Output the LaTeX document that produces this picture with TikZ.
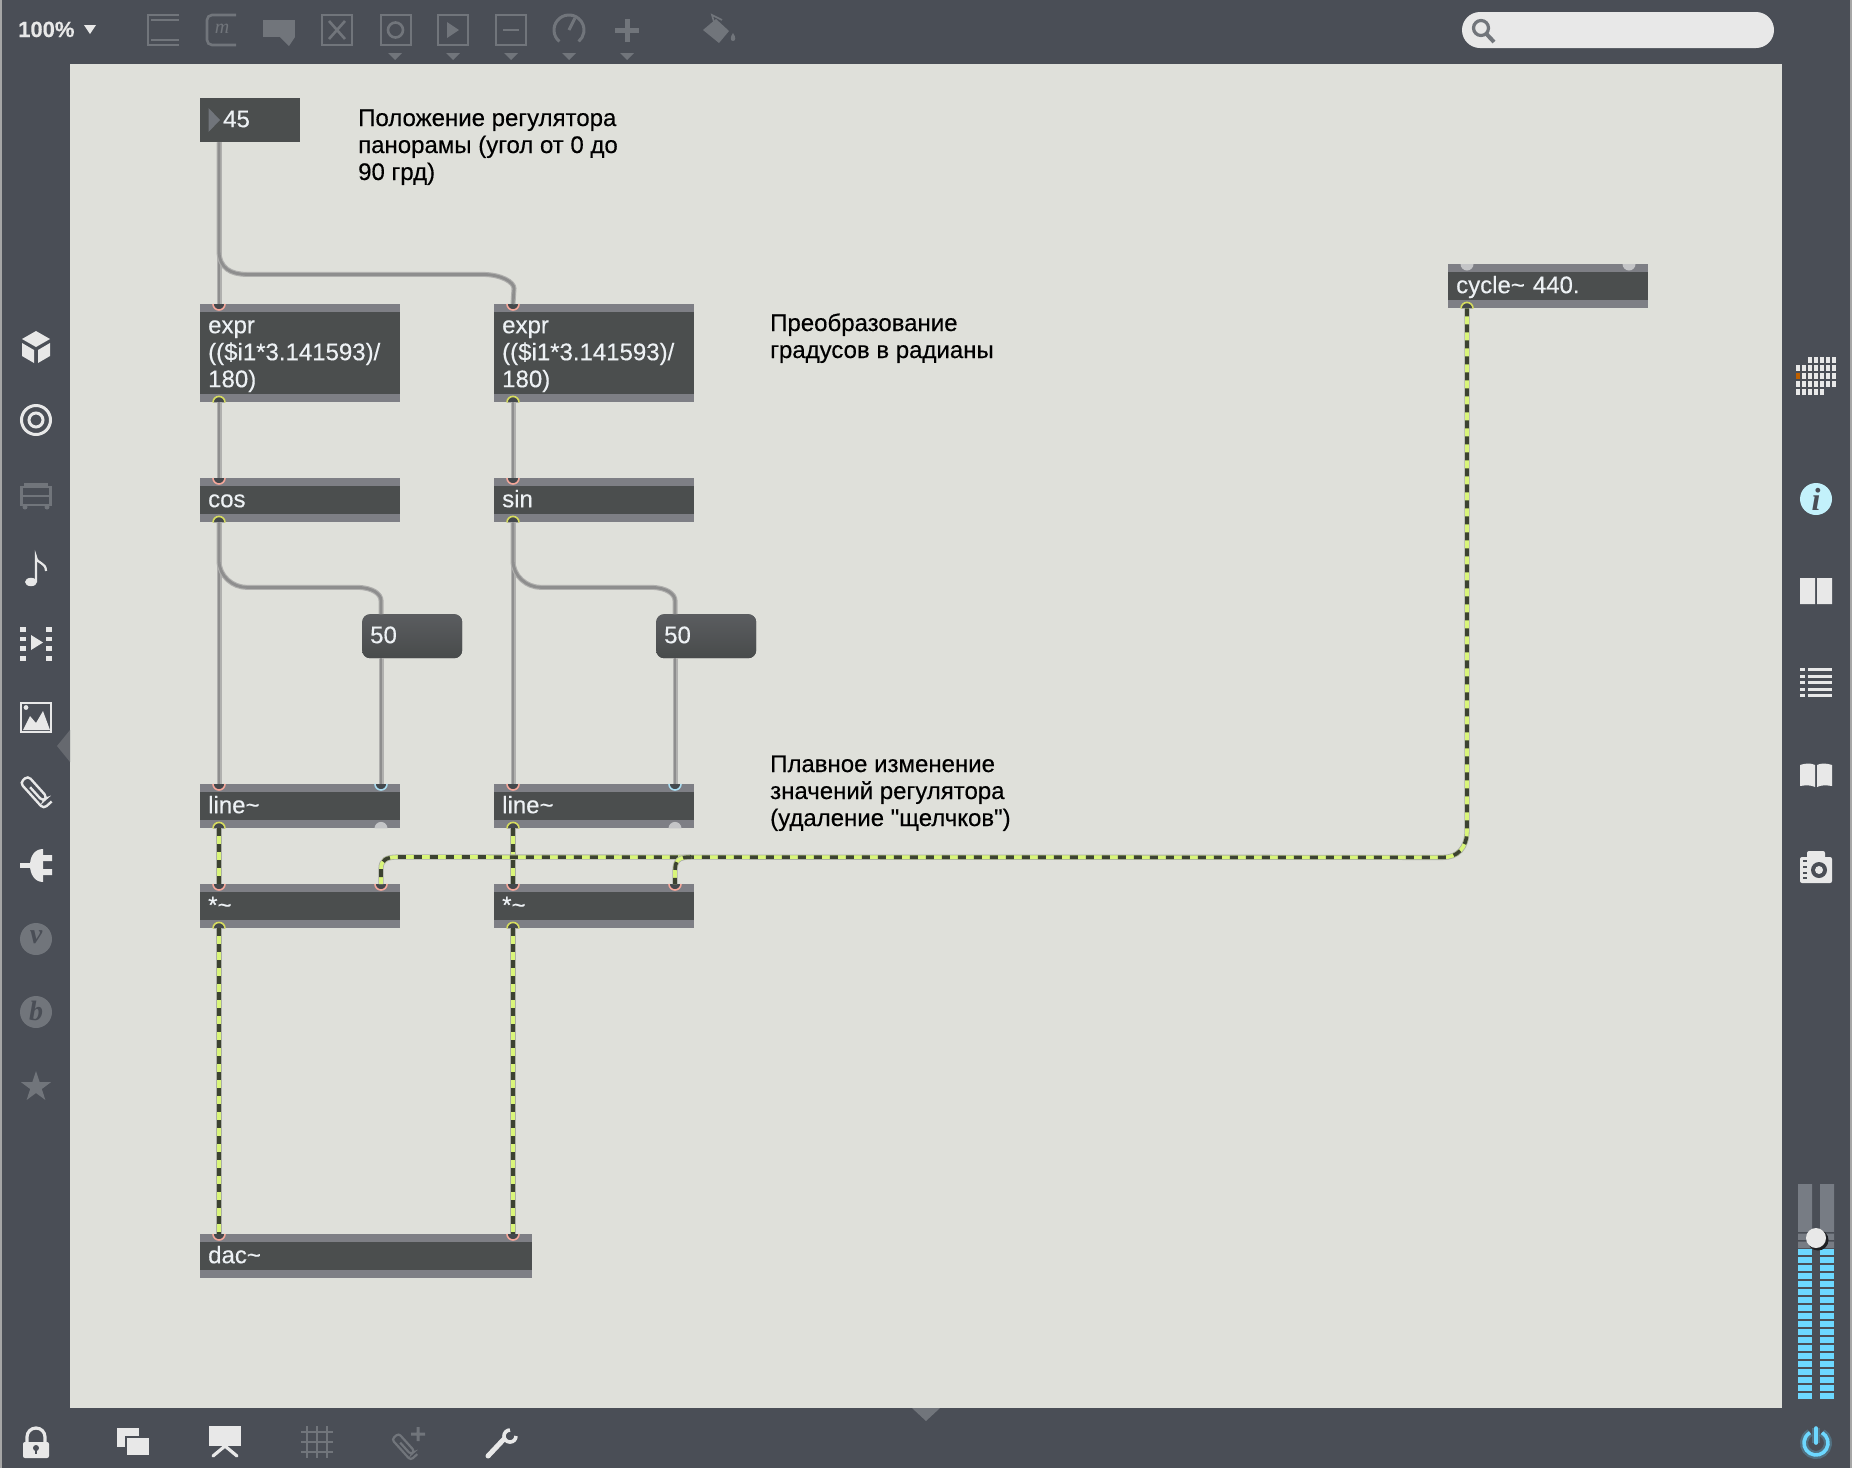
\documentclass[tikz,border=0pt]{standalone}
\usepackage{fontspec}
\setmainfont[FakeBold=0.35]{Liberation Sans}
\newfontfamily\plainsans[FakeBold=0.35]{Liberation Sans}
\newfontfamily\iconserif{Liberation Serif}
\definecolor{frameC}{HTML}{4A4E56}
\definecolor{canvasC}{HTML}{DFE0DA}
\definecolor{boxC}{HTML}{4B4E4E}
\definecolor{barC}{HTML}{7E7F85}
\definecolor{boxT}{HTML}{EDF1F4}
\definecolor{portD}{HTML}{44484C}
\definecolor{salmonC}{HTML}{F4A79A}
\definecolor{yellowC}{HTML}{D6DC5E}
\definecolor{blueC}{HTML}{A9DCF0}
\definecolor{grayP}{HTML}{C4C5C7}
\definecolor{wireO}{HTML}{B0B0AE}
\definecolor{wireI}{HTML}{8E8E8E}
\definecolor{sigO}{HTML}{ABAEA6}
\definecolor{sigG}{HTML}{D9F57A}
\definecolor{sigD}{HTML}{3C4231}
\definecolor{iconW}{HTML}{E8E8E8}
\definecolor{iconD}{HTML}{71757B}
\definecolor{meterB}{HTML}{6DD8FF}
\definecolor{meterG}{HTML}{777C84}
\definecolor{infoC}{HTML}{C3F1FB}
\definecolor{msgTop}{HTML}{5B5D60}
\definecolor{msgBot}{HTML}{484B4B}
\tikzset{
  objbox/.style={rectangle,anchor=north west,fill=boxC,text=boxT,inner xsep=8pt,inner ysep=0pt,
    align=left,font=\fontsize{24}{27}\selectfont,text height=29pt,text depth=#1,
    path picture={
      \fill[barC] (path picture bounding box.north west) rectangle ([yshift=-8pt]path picture bounding box.north east);
      \fill[barC] (path picture bounding box.south west) rectangle ([yshift=8pt]path picture bounding box.south east);
    }},
  objbox/.default=15pt,
  numbox/.style={rectangle,anchor=north west,fill=boxC,text=boxT,inner xsep=8pt,inner ysep=0pt,
    align=left,font=\fontsize{24}{27}\selectfont,text height=29pt,text depth=15pt},
  msgbox/.style={numbox,rounded corners=8pt,top color=msgTop,bottom color=msgBot},
  comment/.style={anchor=base west,text=black,inner sep=0pt,align=left,font=\fontsize{24}{27}\selectfont},
  ctlwire/.style={draw=wireO,double=wireI,line width=1.1pt,double distance=2.8pt},
  sigwire/.style={draw=sigO,line width=5.2pt,
    postaction={draw=sigG,line width=3.6pt},
    postaction={draw=sigD,line width=3.6pt,dash pattern=on 8pt off 8pt}},
  lineD/.style={draw=iconD,line width=2.6pt,fill=none},
  lineW/.style={draw=iconW,line width=3pt,fill=none}
}
% port macros: node, x offset from west edge, port name, colour
\newcommand{\portIn}[4]{%
  \coordinate (#1-#3) at ([xshift=#2pt]#1.north west);
  \draw[#4,fill=portD,line width=1.6pt] ([xshift=-6pt]#1-#3) arc[start angle=180,end angle=0,radius=6];}
\newcommand{\portOut}[4]{%
  \coordinate (#1-#3) at ([xshift=#2pt]#1.south west);
  \draw[#4,fill=portD,line width=1.6pt] ([xshift=-6pt]#1-#3) arc[start angle=180,end angle=360,radius=6];}
\newcommand{\portFreeBottom}[2]{%
  \fill[grayP] ([xshift=#2pt,xshift=-6.5pt]#1.south west) arc[start angle=180,end angle=360,radius=6.5] -- cycle;}
\newcommand{\portFreeTop}[2]{%
  \fill[grayP] ([xshift=#2pt,xshift=-6.5pt]#1.north west) arc[start angle=180,end angle=0,radius=6.5] -- cycle;}
\begin{document}
\begin{tikzpicture}[x=1pt,y=-1pt]
\useasboundingbox (0,0) rectangle (1852,1468);
% window frame and canvas
\fill[frameC] (0,0) rectangle (1852,1468);
\fill[gray!70] (0,0) rectangle (2,1468);
\fill[gray!70] (1850,0) rectangle (1852,1468);
\fill[canvasC] (70,64) rectangle (1782,1408);

% ---------- objects
\node[numbox,minimum width=100pt,text width=84pt] (num45) at (200,98) {\hspace*{15pt}45};
\fill[iconD] (208.5,108) -- (220,120) -- (208.5,132) -- cycle;
\node[objbox=69pt,text width=184pt] (expr1) at (200,304) {expr\\((\$i1*3.141593)/\\180)};
\node[objbox=69pt,text width=184pt] (expr2) at (494,304) {expr\\((\$i1*3.141593)/\\180)};
\node[objbox,text width=184pt] (cosb) at (200,478) {cos};
\node[objbox,text width=184pt] (sinb) at (494,478) {sin};
\node[msgbox,text width=84pt] (fifty1) at (362,614) {50};
\node[msgbox,text width=84pt] (fifty2) at (656,614) {50};
\node[objbox,text width=184pt] (line1) at (200,784) {line\textasciitilde};
\node[objbox,text width=184pt] (line2) at (494,784) {line\textasciitilde};
\node[objbox,text width=184pt] (mul1) at (200,884) {*\textasciitilde};
\node[objbox,text width=184pt] (mul2) at (494,884) {*\textasciitilde};
\node[objbox,text width=316pt] (dac) at (200,1234) {dac\textasciitilde};
\node[objbox,text width=184pt] (cyc) at (1448,264) {cycle\textasciitilde\ 440.};

% ---------- ports
\coordinate (num45-o) at ([xshift=19pt]num45.south west);
\portIn{expr1}{19}{i}{salmonC}\portOut{expr1}{19}{o}{yellowC}
\portIn{expr2}{19}{i}{salmonC}\portOut{expr2}{19}{o}{yellowC}
\portIn{cosb}{19}{i}{salmonC}\portOut{cosb}{19}{o}{yellowC}
\portIn{sinb}{19}{i}{salmonC}\portOut{sinb}{19}{o}{yellowC}
\portIn{line1}{19}{i}{salmonC}\portIn{line1}{181}{j}{blueC}\portOut{line1}{19}{o}{yellowC}\portFreeBottom{line1}{181}
\portIn{line2}{19}{i}{salmonC}\portIn{line2}{181}{j}{blueC}\portOut{line2}{19}{o}{yellowC}\portFreeBottom{line2}{181}
\portIn{mul1}{19}{i}{salmonC}\portIn{mul1}{181}{j}{salmonC}\portOut{mul1}{19}{o}{yellowC}
\portIn{mul2}{19}{i}{salmonC}\portIn{mul2}{181}{j}{salmonC}\portOut{mul2}{19}{o}{yellowC}
\portIn{dac}{19}{i}{salmonC}\portIn{dac}{313}{j}{salmonC}
\portFreeTop{cyc}{19}\portFreeTop{cyc}{181}\portOut{cyc}{19}{o}{yellowC}
\coordinate (fifty1-i) at ([xshift=19pt]fifty1.north west);
\coordinate (fifty1-o) at ([xshift=19pt]fifty1.south west);
\coordinate (fifty2-i) at ([xshift=19pt]fifty2.north west);
\coordinate (fifty2-o) at ([xshift=19pt]fifty2.south west);

% ---------- control wires
\draw[ctlwire] (num45-o) -- (expr1-i);
\draw[ctlwire] (num45-o) -- ++(0,108) .. controls +(0,18) and +(-16,0) .. ++(28,24) -- ++(235,0) .. controls +(20,0) and +(0,-6) .. ++(32,14) -- (expr2-i);
\draw[ctlwire] (expr1-o) -- (cosb-i);
\draw[ctlwire] (expr2-o) -- (sinb-i);
\draw[ctlwire] (cosb-o) -- (line1-i);
\draw[ctlwire] (sinb-o) -- (line2-i);
\draw[ctlwire] (cosb-o) -- ++(0,38) .. controls +(0,16) and +(-14,0) .. ++(28,27) -- ++(110,0) .. controls +(16,0) and +(0,-6) .. ++(24,13) -- (fifty1-i);
\draw[ctlwire] (sinb-o) -- ++(0,38) .. controls +(0,16) and +(-14,0) .. ++(28,27) -- ++(110,0) .. controls +(16,0) and +(0,-6) .. ++(24,13) -- (fifty2-i);
\draw[ctlwire] (fifty1-o) -- (line1-j);
\draw[ctlwire] (fifty2-o) -- (line2-j);

% ---------- signal wires
\draw[sigwire] (line1-o) -- (mul1-i);
\draw[sigwire] (line2-o) -- (mul2-i);
\draw[sigwire] (mul1-o) -- (dac-i);
\draw[sigwire] (mul2-o) -- (dac-j);
\draw[sigwire] (cyc-o) -- ++(0,522) .. controls +(0,18) and +(14,0) .. ++(-24,27) -- (398,857) .. controls (386,857) and (381,860) .. (381,869) -- (mul1-j);
\draw[sigwire] (691,857) .. controls (679,857) and (675,860) .. (675,871) -- (mul2-j);

% ---------- comments (position = baseline of the last line)
\node[comment] (c1) at (358,180) {Положение регулятора\\панорамы (угол от 0 до\\90 грд)};
\node[comment] (c2) at (770,358) {Преобразование\\градусов в радианы};
\node[comment] (c3) at (770,826) {Плавное изменение\\значений регулятора\\(удаление {\plainsans"}щелчков{\plainsans"})};

% ---------- top toolbar
\node[anchor=base west,inner sep=0pt,text=iconW,font=\fontsize{22}{24}\selectfont\bfseries] (zoomlabel) at (18,37) {100\%};
\fill[iconW] (84,25) -- (96,25) -- (90,34) -- cycle;
% patcher
\draw[lineD,line width=2pt] (148,14) -- (148,46);
\draw[lineD,line width=2pt] (147,15) -- (179,15) (151,20) -- (179,20) (151,40) -- (179,40) (147,45) -- (179,45);
% m
\draw[lineD,rounded corners=5pt] (236,15) -- (207,15) -- (207,45) -- (236,45);
\node[inner sep=0pt,text=iconD,font=\iconserif\itshape\fontsize{20}{20}\selectfont] (micon) at (222,29) {m};
% bubble
\fill[iconD] (263,20) rectangle (295,37);
\fill[iconD] (280,37) -- (295,37) -- (289,46) -- cycle;
% boxes
\draw[lineD] (322,15) rectangle (352,45);
\draw[lineD] (329,21) -- (345,39) (345,21) -- (329,39);
\draw[lineD] (381,15) rectangle (411,45);
\draw[lineD] (395.5,30) circle[radius=7.5];
\draw[lineD] (438,15) rectangle (468,45);
\fill[iconD] (447,22) -- (459,30) -- (447,38) -- cycle;
\draw[lineD] (496,15) rectangle (526,45);
\draw[lineD] (503,30) -- (519,30);
% dial
\draw[lineD,line width=3pt] (569,30) ++(130:15) arc[start angle=130,end angle=410,radius=15];
\draw[lineD,line width=3pt] (569,30) -- (575,18);
% plus
\fill[iconD] (615,28) rectangle (639,33);
\fill[iconD] (624.5,19) rectangle (629.5,42);
% bucket
\fill[iconD] (703,30) -- (716,19) -- (729,31) -- (719,43) -- cycle;
\draw[lineD,line width=1.6pt] (714,22) -- (712,15) -- (722,20);
\fill[iconD] (733,33) .. controls (736,37) and (736,41) .. (733,41) .. controls (730,41) and (730,37) .. (733,33);
% menu triangles
\foreach \tx in {395,453,511,569,627} \fill[iconD] (\tx-7,53) -- (\tx+7,53) -- (\tx,60) -- cycle;
% search
\fill[iconW,rounded corners=18pt] (1462,12) rectangle (1774,48);
\draw[iconD,line width=3.2pt] (1481,28) circle[radius=7.5];
\draw[iconD,line width=4pt] (1486.5,34) -- (1494,42);

% ---------- left toolbar
\fill[iconW] (36,331) -- (50,339) -- (36,347) -- (22,339) -- cycle;
\fill[iconW] (22,343) -- (34,350) -- (34,363) -- (22,356) -- cycle;
\fill[iconW] (38,350) -- (50,343) -- (50,356) -- (38,363) -- cycle;
\draw[lineW] (36,420) circle[radius=14.5];
\draw[lineW] (36,420) circle[radius=7];
% toaster
\draw[lineD,fill=none] (21.5,487) rectangle (50.5,505);
\draw[lineD,line width=1.6pt] (22,496) -- (50,496);
\fill[iconD] (24,483) rectangle (48,487);
\fill[iconD] (25,507) circle[radius=2.5] (47,507) circle[radius=2.5];
% note
\fill[iconW] (31,582) ellipse[x radius=6,y radius=4.2];
\draw[iconW,line width=2.2pt] (36,582) -- (36,557) .. controls (37,564) and (46,562) .. (46,571);
% film
\fill[iconW] (31,635) -- (43,642.5) -- (31,650) -- cycle;
\foreach \ty in {627,636.5,646,656} {\fill[iconW] (20,\ty) rectangle (26,\ty+4.5); \fill[iconW] (46,\ty) rectangle (52,\ty+4.5);}
% image
\draw[iconW,line width=2pt] (21,703) rectangle (51,732);
\fill[iconW] (26,707.5) circle[radius=2.4];
\fill[iconW] (23,730) -- (30,716) -- (36,723) -- (43,711) -- (50,730) -- cycle;
% clip
\begin{scope}[shift={(36,790)},rotate=-48]
\draw[iconW,line width=2.4pt,rounded corners=4pt] (-6,2.5) -- (13,2.5) -- (13,-3.5) -- (-16,-3.5) -- (-16,7) -- (19,7) -- (19,-4);
\end{scope}
% plug
\fill[iconW] (43,849) -- (43,882) .. controls (34,882) and (30,873) .. (30,865.5) .. controls (30,857) and (34,849) .. (43,849) -- cycle;
\fill[iconW] (43,855) rectangle (52,861) (43,869) rectangle (52,875);
\fill[iconW] (20,863) rectangle (31,868);
% v b star
\fill[iconD] (36,939) circle[radius=16];
\node[inner sep=0pt,text=frameC,font=\iconserif\bfseries\itshape\fontsize{28}{28}\selectfont] (vicon) at (36,937) {v};
\fill[iconD] (36,1012) circle[radius=16];
\node[inner sep=0pt,text=frameC,font=\iconserif\bfseries\itshape\fontsize{28}{28}\selectfont] (bicon) at (36,1011) {b};
\fill[iconD] (36,1071) -- (39.6,1082) -- (51.2,1082) -- (41.8,1089) -- (45.4,1100) -- (36,1093) -- (26.6,1100) -- (30.2,1089) -- (20.8,1082) -- (32.4,1082) -- cycle;
% side triangle
\fill[iconD!90!black] (57,746) -- (70,730) -- (70,762) -- cycle;

% ---------- right toolbar
\foreach \c in {2,...,6} \fill[iconW] (1796+6*\c,357) rectangle (1800+6*\c,363.4);
\foreach \r in {1,2,3} \foreach \c in {0,...,6} \fill[iconW] (1796+6*\c,357+8*\r) rectangle (1800+6*\c,363.4+8*\r);
\fill[orange!75!black] (1796,373) rectangle (1800,379.4);
\foreach \c in {0,...,4} \fill[iconW] (1796+6*\c,389) rectangle (1800+6*\c,395.4);
\fill[infoC] (1816,499) circle[radius=16];
\node[inner sep=0pt,text=frameC,font=\iconserif\bfseries\itshape\fontsize{32}{32}\selectfont] (iicon) at (1816,499) {i};
\fill[iconW] (1800,578) rectangle (1815,604) (1817,578) rectangle (1832,604);
\foreach \ty in {668,674.5,681,687.5,694} {\fill[iconW] (1800,\ty) rectangle (1805,\ty+3); \fill[iconW] (1808,\ty) rectangle (1832,\ty+3);}
\fill[iconW] (1800,765) .. controls (1806,763) and (1811,763) .. (1815,765) -- (1815,787) .. controls (1811,785) and (1806,785) .. (1800,786) -- cycle;
\fill[iconW] (1832,765) .. controls (1826,763) and (1821,763) .. (1817,765) -- (1817,787) .. controls (1821,785) and (1826,785) .. (1832,786) -- cycle;
\fill[iconW,rounded corners=2pt] (1800,857) rectangle (1832,883);
\fill[iconW,rounded corners=2pt] (1807,851) rectangle (1825,860);
\fill[frameC] (1819,870) circle[radius=8];
\fill[iconW] (1819,870) circle[radius=4];
\foreach \ty in {860,866,872,877} \fill[frameC] (1803,\ty) rectangle (1807,\ty+2);

% ---------- meter
\fill[meterG] (1798,1184) rectangle (1812,1248) (1820,1184) rectangle (1834,1248);
\fill[frameC] (1798,1232) rectangle (1834,1233.5) (1798,1240) rectangle (1834,1241.5);
\foreach \k in {0,...,18} {\fill[meterB] (1798,1249+8*\k) rectangle (1812,1255+8*\k); \fill[meterB] (1820,1249+8*\k) rectangle (1834,1255+8*\k);}
\fill[black!60!frameC] (1818,1240) circle[radius=10.5];
\fill[iconW] (1816,1238) circle[radius=10];
% power
\draw[meterB,opacity=.25,line width=8pt] (1816,1443) ++(-60:12) arc[start angle=-60,end angle=240,radius=12];
\draw[meterB,opacity=.25,line width=8pt] (1816,1428) -- (1816,1443);
\draw[meterB,line width=3.6pt] (1816,1443) ++(-60:12) arc[start angle=-60,end angle=240,radius=12];
\draw[meterB,line width=3.6pt,line cap=round] (1816,1428) -- (1816,1443);

% ---------- bottom toolbar
\fill[iconW,rounded corners=2pt] (23,1442) rectangle (49,1458);
\draw[iconW,line width=3.2pt] (27,1443) -- (27,1437) arc[start angle=180,end angle=360,radius=9] -- (45,1443);
\fill[frameC] (36,1448) circle[radius=3];
\fill[frameC] (34.8,1448) rectangle (37.2,1454);
\fill[iconW] (117,1428) rectangle (139,1447);
\fill[frameC] (125,1436) rectangle (141,1457);
\fill[iconW] (127,1438) rectangle (149,1455);
\fill[iconW] (209,1426) rectangle (241,1446);
\draw[iconW,line width=3.2pt,line cap=round] (213,1456) -- (225,1446) -- (237,1456);
\draw[iconD,line width=1.6pt] (307,1426) -- (307,1458) (317,1426) -- (317,1458) (327,1426) -- (327,1458)
  (301,1432) -- (333,1432) (301,1442) -- (333,1442) (301,1452) -- (333,1452);
\begin{scope}[shift={(405,1445)},rotate=-48]
\draw[iconD,line width=2.2pt,rounded corners=3pt] (-5,2) -- (11,2) -- (11,-3) -- (-13,-3) -- (-13,6) -- (15,6) -- (15,-3);
\end{scope}
\fill[iconD] (411,1432.5) rectangle (425,1435.5) (416.5,1427) rectangle (419.5,1441);
\draw[iconW,line width=5pt,line cap=round] (488,1456) -- (504,1439);
\draw[iconW,line width=3.6pt] (516,1436) arc[start angle=0,end angle=270,radius=6];

% bottom triangle
\fill[iconD] (912,1408) -- (940,1408) -- (926,1421) -- cycle;
\end{tikzpicture}
\end{document}
